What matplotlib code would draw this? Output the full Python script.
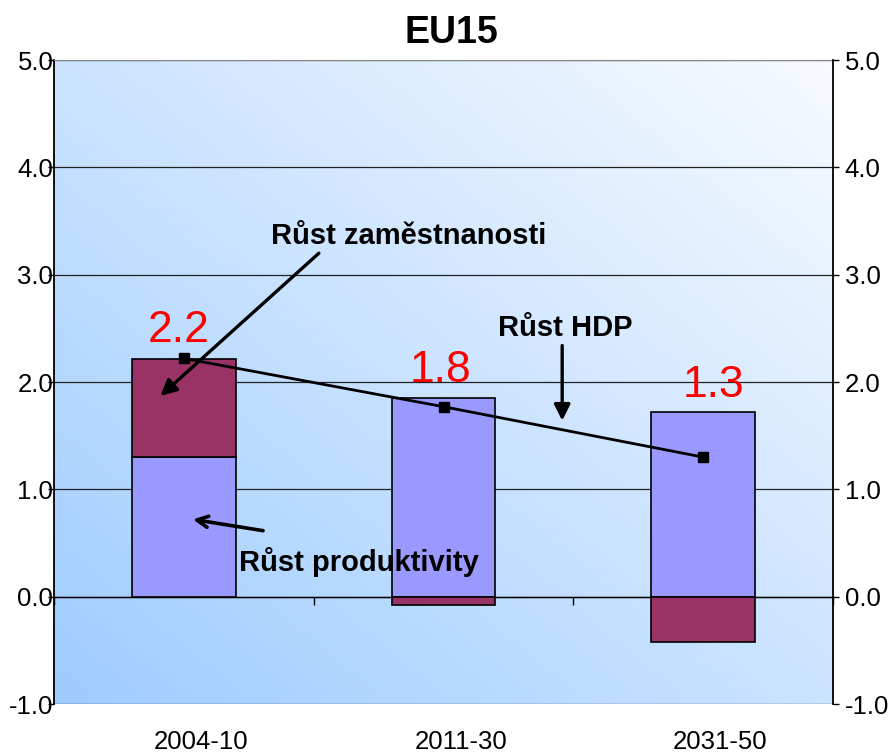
import numpy as np
import matplotlib
matplotlib.use('Agg')
import matplotlib.pyplot as plt
from matplotlib.colors import LinearSegmentedColormap

plt.rcParams['font.family'] = ['Liberation Sans', 'DejaVu Sans']
plt.rcParams['axes.unicode_minus'] = False

# Data
periods = ['2004-10', '2011-30', '2031-50']
productivity = [1.30, 1.85, 1.72]   # Růst produktivity
employment = [0.91, -0.08, -0.42]   # Růst zaměstnanosti
gdp = [2.22, 1.77, 1.30]            # Růst HDP
y_ticks = [-1.0, 0.0, 1.0, 2.0, 3.0, 4.0, 5.0]

col_prod = '#9999FF'
col_emp = '#993366'

fig = plt.figure(figsize=(8.94, 7.54), dpi=100)
ax = fig.add_axes([0.0604, 0.0663, 0.8714, 0.8541])

# gradient background: light blue bottom-left -> almost white top-right
gx, gy = np.meshgrid(np.linspace(0, 1, 200), np.linspace(0, 1, 200))
grad = (gx + gy) / 2
cmap = LinearSegmentedColormap.from_list('bg', ['#9ECCFF', '#F8FBFF'])
ax.imshow(grad, cmap=cmap, origin='lower', extent=[0, 1, 0, 1],
          transform=ax.transAxes, aspect='auto', zorder=0)

x = np.arange(len(periods))
w = 0.4

# stack: positive parts upward from 0, negative parts downward from 0
prod = np.array(productivity)
emp = np.array(employment)
emp_bottom = np.where(emp >= 0, prod, 0)
ax.bar(x, prod, w, color=col_prod, edgecolor='black', linewidth=1.2, zorder=3)
ax.bar(x, emp, w, bottom=emp_bottom, color=col_emp, edgecolor='black',
       linewidth=1.2, zorder=3)

ax.plot(x, gdp, color='black', linewidth=2, marker='s', markersize=7, zorder=5)

# value labels for GDP growth
label_y = [2.48, 2.11, 1.97]
label_x = [-0.02, -0.01, 0.04]
for i, v in enumerate(gdp):
    ax.text(x[i] + label_x[i], label_y[i], f'{v:.1f}', color='#FF0000',
            fontsize=32, ha='center', va='center', zorder=6)

# annotations
bold = dict(fontsize=21, fontweight='bold', color='black', zorder=6)
arr = dict(arrowstyle='-|>', color='black', lw=2.4, mutation_scale=24,
           shrinkA=0, shrinkB=0)
arr_open = dict(arrowstyle='->', color='black', lw=2.6, mutation_scale=20,
                shrinkA=0, shrinkB=0)
ax.text(0.335, 3.36, 'Růst zaměstnanosti', ha='left', va='center', **bold)
ax.annotate('', xy=(-0.09, 1.87), xytext=(0.52, 3.20), arrowprops=arr, zorder=6)
ax.text(1.21, 2.50, 'Růst HDP', ha='left', va='center', **bold)
ax.annotate('', xy=(1.457, 1.64), xytext=(1.457, 2.34), arrowprops=arr, zorder=6)
ax.text(0.212, 0.32, 'Růst produktivity', ha='left', va='center', **bold)
ax.annotate('', xy=(0.035, 0.72), xytext=(0.305, 0.615), arrowprops=arr_open,
            zorder=6)

ax.set_xlim(-0.5, 2.5)
ax.set_ylim(-1.0, 5.0)
ax.set_yticks(y_ticks)
ax.set_yticklabels([f'{t:.1f}' for t in y_ticks])
ax.yaxis.grid(True, color='#222222', linewidth=0.9, zorder=1)
ax.set_axisbelow(True)
ax.tick_params(axis='y', labelsize=18.5, length=4, width=1,
               direction='out', pad=-3.5)

# secondary value axis on the right
ax2 = ax.twinx()
ax2.set_ylim(-1.0, 5.0)
ax2.set_yticks(y_ticks)
ax2.set_yticklabels([f'{t:.1f}' for t in y_ticks])
ax2.tick_params(axis='y', labelsize=18.5, length=4.5, width=1,
                direction='out', pad=4)
for s in ['top', 'bottom', 'left']:
    ax2.spines[s].set_visible(False)
ax2.spines['right'].set_linewidth(1.3)

# category axis crosses at 0; labels below the plot
ax.spines['bottom'].set_position(('data', 0))
ax.spines['bottom'].set_linewidth(1)
ax.set_xticks([-0.5, 0.5, 1.5, 2.5])
ax.set_xticklabels([])
ax.tick_params(axis='x', which='major', length=6, width=1, direction='out')
ax.set_xticks(x + 0.066, minor=True)
ax.set_xticklabels(periods, minor=True)
ax.tick_params(axis='x', which='minor', length=0, labelsize=18.5, pad=96)

ax.spines['top'].set_color('#888888')
ax.spines['left'].set_linewidth(1.3)
ax.spines['right'].set_visible(False)

ax.set_title('EU15', fontsize=27, fontweight='bold', pad=12, x=0.51)

fig.savefig('out.png', dpi=100)
